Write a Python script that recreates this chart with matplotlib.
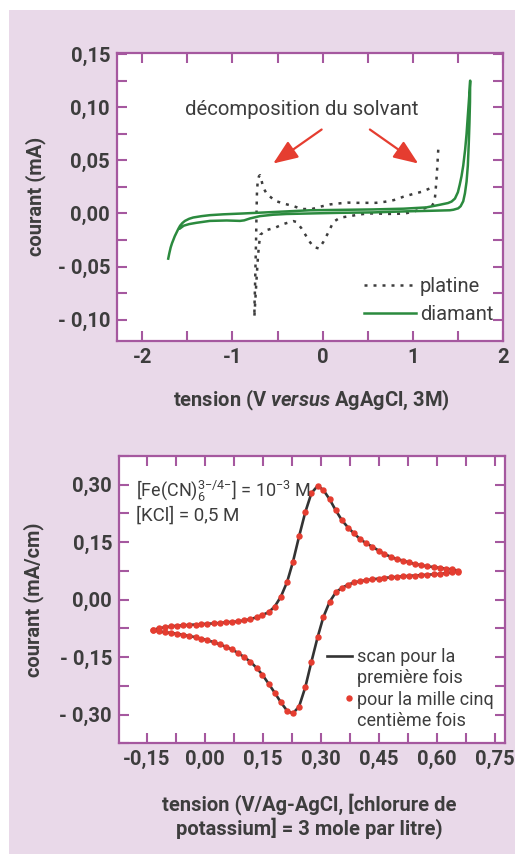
import numpy as np
import matplotlib.pyplot as plt
from matplotlib.patches import Rectangle
from matplotlib.lines import Line2D
from matplotlib.legend_handler import HandlerLine2D
from matplotlib.ticker import MultipleLocator

plt.rcParams['font.family'] = ['Roboto', 'DejaVu Sans']
plt.rcParams['mathtext.fontset'] = 'custom'
plt.rcParams['mathtext.rm'] = 'Roboto'
plt.rcParams['mathtext.it'] = 'Roboto:italic'
plt.rcParams['mathtext.bf'] = 'Roboto:bold'
plt.rcParams['mathtext.bfit'] = 'Roboto:italic:bold'
plt.rcParams['mathtext.default'] = 'regular'

BG = '#e9d9e9'
FRAME = '#a5589f'
INK = '#3d3d3d'
GREEN = '#2b8a3e'
RED = '#e53d30'

# ---- top chart: electrochemical window, platinum vs diamond ----
# platinum CV (V, mA)
pt_v = [1.282, 1.276, 1.270, 1.263, 1.255, 1.247, 1.232, 1.210, 1.115, 1.000,
        0.912, 0.800, 0.700, 0.600, 0.506, 0.413, 0.303, 0.192, 0.118, 0.085,
        0.050, 0.010, -0.040, -0.100, -0.140, -0.177, -0.233, -0.290, -0.326, -0.437,
        -0.529, -0.629, -0.690, -0.705, -0.718, -0.730, -0.742, -0.752, -0.757,
        -0.755, -0.750, -0.746, -0.742, -0.738, -0.735, -0.732, -0.728, -0.720, -0.706,
        -0.695, -0.680, -0.665, -0.640, -0.620, -0.529, -0.437, -0.326, -0.233, -0.122,
        -0.030, 0.081, 0.173, 0.284, 0.384, 0.488, 0.591, 0.691, 0.790, 0.894,
        0.998, 1.098, 1.190, 1.234]
pt_i = [0.060, 0.051, 0.042, 0.033, 0.024, 0.016, 0.010, 0.0068, 0.0045, 0.0016,
        0.0, -0.0004, -0.0004, 0.0, 0.0, -0.0009, -0.0025, -0.0040, -0.0080, -0.0140,
        -0.0200, -0.0265, -0.0330, -0.0315, -0.0270, -0.0220, -0.0142, -0.0080, -0.0072, -0.0100,
        -0.0135, -0.0158, -0.0200, -0.0290, -0.0420, -0.0580, -0.0750, -0.0900, -0.0975,
        -0.085, -0.070, -0.055, -0.040, -0.025, -0.010, 0.005, 0.020, 0.030, 0.0350,
        0.0360, 0.0320, 0.0265, 0.0215, 0.0185, 0.0120, 0.0094, 0.0070, 0.0042, 0.0041,
        0.0063, 0.0085, 0.0094, 0.0102, 0.0100, 0.0100, 0.0100, 0.0110, 0.0126, 0.0157,
        0.0182, 0.0204, 0.0236, 0.0260]

# diamond CV
dia_v = [-1.712, -1.700, -1.685, -1.670, -1.656, -1.640, -1.620, -1.600, -1.580, -1.555,
         -1.527, -1.480, -1.435, -1.340, -1.250, -1.100, -0.880, -0.510, -0.140, 0.200,
         0.560, 0.900, 1.150, 1.300, 1.390, 1.430, 1.467, 1.500, 1.520, 1.540,
         1.559, 1.580, 1.596, 1.610, 1.625, 1.636, 1.634, 1.628, 1.620, 1.610,
         1.596, 1.578, 1.559, 1.530, 1.503, 1.450, 1.410, 1.190, 0.930, 0.560,
         0.190, -0.140, -0.400, -0.550, -0.695, -0.806, -0.870, -0.917, -1.064, -1.250,
         -1.400, -1.480, -1.540, -1.580]
dia_i = [-0.0425, -0.0375, -0.0320, -0.0280, -0.0250, -0.0215, -0.0180, -0.0145, -0.0115, -0.0090,
         -0.0070, -0.0050, -0.0038, -0.0025, -0.0016, -0.0008, 0.0000, 0.0015, 0.0030, 0.0034,
         0.0038, 0.0045, 0.0057, 0.0082, 0.0098, 0.0112, 0.0140, 0.0200, 0.0270, 0.0350,
         0.0450, 0.0600, 0.0750, 0.0920, 0.1100, 0.1250, 0.1050, 0.0850, 0.0650, 0.0450,
         0.0300, 0.0190, 0.0115, 0.0068, 0.0048, 0.0035, 0.0030, 0.0025, 0.0020, 0.0010,
         0.0006, 0.0000, -0.0005, -0.0012, -0.0025, -0.0047, -0.0065, -0.0070, -0.0066, -0.0070,
         -0.0088, -0.0100, -0.0115, -0.0140]

top_xticks = [-2, -1, 0, 1, 2]
top_xlabels = ['-2', '-1', '0', '1', '2']
top_yticks = [-0.10, -0.05, 0.0, 0.05, 0.10, 0.15]
top_ylabels = ['- 0,10', '- 0,05', '0,00', '0,05', '0,10', '0,15']

# annotation arrows (tail -> head, data coords)
arrow_tails = [(-0.011, 0.079), (0.524, 0.079)]
arrow_heads = [(-0.548, 0.047), (1.06, 0.047)]

# ---- bottom chart: ferri/ferrocyanide CV on diamond ----
cv_e = [-0.135, -0.119, -0.103, -0.088, -0.072, -0.056, -0.040, -0.024, -0.009, 0.007,
        0.023, 0.039, 0.055, 0.070, 0.086, 0.102, 0.118, 0.134, 0.149, 0.165,
        0.181, 0.197, 0.213, 0.228, 0.244, 0.260, 0.276, 0.292, 0.307, 0.323,
        0.339, 0.355, 0.371, 0.386, 0.402, 0.418, 0.434, 0.450, 0.465, 0.481,
        0.497, 0.513, 0.529, 0.544, 0.560, 0.576, 0.592, 0.608, 0.623, 0.639, 0.655]
cv_fwd = [-0.079, -0.075, -0.072, -0.070, -0.068, -0.067, -0.066, -0.065, -0.064, -0.063,
          -0.062, -0.061, -0.059, -0.058, -0.057, -0.054, -0.051, -0.046, -0.040, -0.033,
          -0.018, 0.008, 0.046, 0.098, 0.165, 0.228, 0.278, 0.297, 0.286, 0.262,
          0.233, 0.207, 0.188, 0.173, 0.158, 0.147, 0.138, 0.128, 0.119, 0.112,
          0.106, 0.102, 0.097, 0.093, 0.090, 0.087, 0.085, 0.083, 0.081, 0.079, 0.076]
cv_rev = [-0.080, -0.083, -0.085, -0.087, -0.089, -0.092, -0.095, -0.098, -0.102, -0.106,
          -0.111, -0.117, -0.123, -0.130, -0.139, -0.150, -0.162, -0.178, -0.196, -0.219,
          -0.243, -0.268, -0.290, -0.297, -0.279, -0.229, -0.162, -0.098, -0.045, -0.006,
          0.019, 0.031, 0.039, 0.045, 0.048, 0.051, 0.053, 0.055, 0.057, 0.058,
          0.0595, 0.061, 0.062, 0.063, 0.064, 0.065, 0.066, 0.067, 0.069, 0.071, 0.073]

bot_xticks = [-0.15, 0.0, 0.15, 0.30, 0.45, 0.60, 0.75]
bot_xlabels = ['-0,15', '0,00', '0,15', '0,30', '0,45', '0,60', '0,75']
bot_yticks = [-0.30, -0.15, 0.0, 0.15, 0.30]
bot_ylabels = ['- 0,30', '- 0,15', '0,00', '0,15', '0,30']


class RightDot(HandlerLine2D):
    # put the single legend marker at the right end of the handle
    def get_xdata(self, legend, xdescent, ydescent, width, height, fontsize):
        x = width - xdescent - 0.15 * fontsize
        return np.array([x, x]), np.array([x])


def style_axes(ax, xt, xl, yt, yl, xminor, yminor):
    ax.set_facecolor('white')
    for sp in ax.spines.values():
        sp.set_color(FRAME)
        sp.set_linewidth(1.6)
    ax.set_xticks(xt)
    ax.set_xticklabels(xl, fontweight='bold')
    ax.set_yticks(yt)
    ax.set_yticklabels(yl, fontweight='bold')
    ax.xaxis.set_minor_locator(MultipleLocator(xminor))
    ax.yaxis.set_minor_locator(MultipleLocator(yminor))
    ax.tick_params(which='both', direction='in', length=7.5, width=1.5,
                   color=FRAME, top=True, right=True, labelsize=14.5,
                   labelcolor=INK, pad=5)


fig = plt.figure(figsize=(5.15, 8.55), dpi=100)
fig.patch.set_facecolor('white')
fig.add_artist(Rectangle((9 / 515, 1 / 855), 506 / 515, 844 / 855,
                         transform=fig.transFigure, facecolor=BG,
                         edgecolor='none', zorder=-10))

# top
ax1 = fig.add_axes([0.2272, 0.6012, 0.7495, 0.3368])
pt_line, = ax1.plot(pt_v, pt_i, color=INK, lw=1.8, linestyle=(0, (1.2, 2.4)))
dia_line, = ax1.plot(dia_v, dia_i, color=GREEN, lw=1.8)
ax1.set_xlim(-2.28, 2.0)
ax1.set_ylim(-0.12, 0.151)
style_axes(ax1, top_xticks, top_xlabels, top_yticks, top_ylabels, 0.5, 0.025)

ax1.text(-0.23, 0.098, 'décomposition du solvant', fontsize=14.7, color=INK,
         ha='center', va='center')
for tail, head in zip(arrow_tails, arrow_heads):
    ax1.annotate('', xy=head, xytext=tail,
                 arrowprops=dict(arrowstyle='-|>,head_length=0.75,head_width=0.3',
                                 color=RED, lw=1.6, mutation_scale=20,
                                 shrinkA=0, shrinkB=0))

ax1.legend([pt_line, dia_line], ['platine', 'diamant'], loc='lower right',
           bbox_to_anchor=(0.975, 0.058), frameon=False, fontsize=14.5,
           labelcolor=INK, handlelength=2.6, handletextpad=0.2,
           labelspacing=0.45, borderpad=0, borderaxespad=0)

ax1.set_xlabel(r'tension (V $\mathbfit{versus}$ AgAgCl, 3M)', fontsize=14.5,
               fontweight='bold', color=INK, va='center')
ax1.xaxis.set_label_coords(0.5026, -0.205)
ax1.set_ylabel('courant (mA)', fontsize=14.5, fontweight='bold', color=INK,
               va='center')
ax1.yaxis.set_label_coords(-0.212, 0.503)

# bottom (both scans coincide: line = first scan, dots = 1500th scan)
ax2 = fig.add_axes([0.2311, 0.1306, 0.7495, 0.3361])
loop_e = cv_e + cv_e[::-1]
loop_i = cv_fwd + cv_rev[::-1]
scan_line, = ax2.plot(loop_e, loop_i, color='#333333', lw=1.9, zorder=2)
ax2.plot(loop_e, loop_i, linestyle='none', marker='o', ms=3.6,
         color=RED, zorder=3)
ax2.set_xlim(-0.222, 0.777)
ax2.set_ylim(-0.375, 0.375)
style_axes(ax2, bot_xticks, bot_xlabels, bot_yticks, bot_ylabels, 0.075, 0.075)

ax2.text(0.043, 0.878, r'[Fe(CN)$_6^{3{-}/4{-}}$] = 10$^{-3}$ M', fontsize=13,
         color=INK, ha='left', va='center', transform=ax2.transAxes)
ax2.text(0.043, 0.791, '[KCl] = 0,5 M', fontsize=13.5, color=INK, ha='left',
         va='center', transform=ax2.transAxes)

blank = Line2D([], [], linestyle='none')
dot_handle = Line2D([], [], linestyle='none', marker='o', ms=3.6, color=RED)
line_handle = Line2D([], [], color='#333333', lw=1.9)
ax2.legend([line_handle, blank, dot_handle, blank],
           ['scan pour la', 'première fois', 'pour la mille cinq', 'centième fois'],
           handler_map={dot_handle: RightDot()},
           loc='upper left', bbox_to_anchor=(0.538, 0.331), frameon=False,
           fontsize=13, labelcolor=INK, handlelength=1.4, handletextpad=0.3,
           labelspacing=0.175, borderpad=0, borderaxespad=0)

ax2.set_xlabel('tension (V/Ag-AgCl, [chlorure de\npotassium] = 3 mole par litre)',
               fontsize=14.5, fontweight='bold', color=INK, va='center',
               linespacing=1.15)
ax2.xaxis.set_label_coords(0.492, -0.253)
ax2.set_ylabel('courant (mA/cm)', fontsize=14.5, fontweight='bold', color=INK,
               va='center')
ax2.yaxis.set_label_coords(-0.22, 0.499)

fig.savefig('out.png', dpi=100)
